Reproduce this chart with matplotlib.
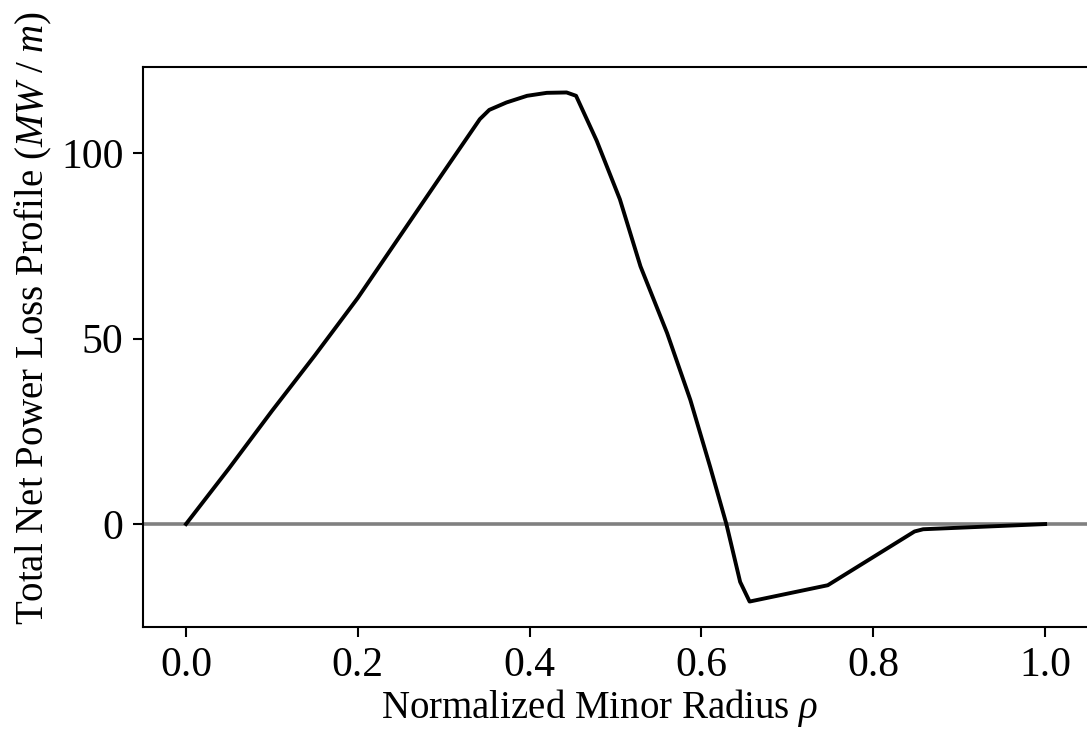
import numpy as np
import matplotlib
matplotlib.use("Agg")
import matplotlib.pyplot as plt

# radial profile of net power loss
rho = [0.0, 0.05, 0.10, 0.15, 0.20, 0.25, 0.30, 0.342, 0.353, 0.373, 0.397, 0.420,
       0.443, 0.454, 0.478, 0.505, 0.529, 0.560, 0.587, 0.610, 0.629, 0.645, 0.656,
       0.747, 0.848, 0.858, 1.0]
p_loss = [0.0, 15.0, 30.5, 45.5, 61.0, 78.0, 95.0, 109.2, 111.7, 113.7, 115.5, 116.3,
          116.4, 115.5, 103.4, 87.6, 69.5, 51.5, 33.5, 15.5, 0.0, -15.6, -20.9,
          -16.5, -2.0, -1.4, 0.0]

x_ticks = [0.0, 0.2, 0.4, 0.6, 0.8, 1.0]
y_ticks = [0, 50, 100]

plt.rcParams['font.family'] = ['Liberation Serif', 'DejaVu Serif']
plt.rcParams['mathtext.fontset'] = 'custom'
plt.rcParams['mathtext.rm'] = 'Liberation Serif'
plt.rcParams['mathtext.it'] = 'Liberation Serif:italic'
plt.rcParams['font.size'] = 28
plt.rcParams['xtick.labelsize'] = 30
plt.rcParams['ytick.labelsize'] = 30
plt.rcParams['axes.linewidth'] = 1.5
plt.rcParams['xtick.major.size'] = 7
plt.rcParams['ytick.major.size'] = 7
plt.rcParams['xtick.major.width'] = 1.5
plt.rcParams['ytick.major.width'] = 1.5
plt.rcParams['xtick.major.pad'] = 7
plt.rcParams['ytick.major.pad'] = 7

fig = plt.figure(figsize=(10.87, 7.38), dpi=100)
ax = fig.add_axes([0.1316, 0.1504, 0.8694, 0.7588])

ax.axhline(0, color='gray', lw=2.6, zorder=1)
ax.plot(rho, p_loss, color='black', lw=2.8, zorder=2)

ax.set_xticks(x_ticks)
ax.set_yticks(y_ticks)
ax.set_xlim(-0.05, 1.05)
ax.set_xlabel(r'Normalized Minor Radius $\rho$')
ax.set_ylabel(r'Total Net Power Loss Profile ($MW\ /\ m$)')
ax.xaxis.set_label_coords(0.483, -0.107)
ax.yaxis.set_label_coords(-0.094, 0.552)

fig.savefig('out.png', dpi=100)
